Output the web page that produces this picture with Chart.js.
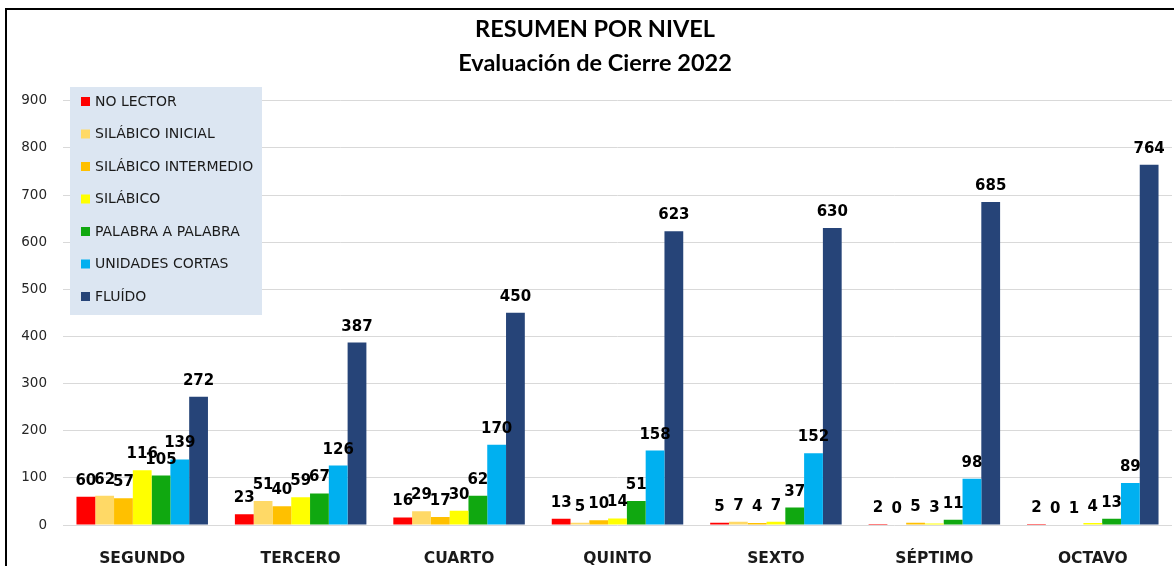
<!DOCTYPE html>
<html>
<head>
<meta charset="utf-8">
<script src="https://cdn.jsdelivr.net/npm/chart.js@4.4.1/dist/chart.umd.min.js"></script>
<style>
	html, body { margin: 0; padding: 0; background: #fff; }
	canvas { display: block; }
</style>
</head>
<body>
<canvas id="chart" width="1174" height="566"></canvas>
<script>
// niveles (categorias)
var niveles = ['SEGUNDO', 'TERCERO', 'CUARTO', 'QUINTO', 'SEXTO', 'SÉPTIMO', 'OCTAVO'];

// valores por categoria de lectura
var noLector = [60, 23, 16, 13, 5, 2, 2];
var silabicoInicial = [62, 51, 29, 5, 7, 0, 0];
var silabicoIntermedio = [57, 40, 17, 10, 4, 5, 1];
var silabico = [116, 59, 30, 14, 7, 3, 4];
var palabraAPalabra = [105, 67, 62, 51, 37, 11, 13];
var unidadesCortas = [139, 126, 170, 158, 152, 98, 89];
var fluido = [272, 387, 450, 623, 630, 685, 764];

var yTicks = [0, 100, 200, 300, 400, 500, 600, 700, 800, 900];

var series = [
	{ label: 'NO LECTOR', data: noLector, color: '#ff0000' },
	{ label: 'SILÁBICO INICIAL', data: silabicoInicial, color: '#ffd966' },
	{ label: 'SILÁBICO INTERMEDIO', data: silabicoIntermedio, color: '#ffc000' },
	{ label: 'SILÁBICO', data: silabico, color: '#ffff00' },
	{ label: 'PALABRA A PALABRA', data: palabraAPalabra, color: '#10a810' },
	{ label: 'UNIDADES CORTAS', data: unidadesCortas, color: '#00b0f0' },
	{ label: 'FLUÍDO', data: fluido, color: '#264478' }
];

Chart.defaults.font.family = "'DejaVu Sans', sans-serif";

// marco negro del grafico
var framePlugin = {
	id: 'frame',
	beforeDraw: function (chart) {
		var c = chart.ctx;
		c.save();
		c.fillStyle = '#fff';
		c.fillRect(0, 0, chart.width, chart.height);
		c.strokeStyle = '#000';
		c.lineWidth = 2;
		c.beginPath();
		c.moveTo(6, chart.height);
		c.lineTo(6, 9);
		c.lineTo(chart.width, 9);
		c.stroke();
		c.restore();
	}
};

// etiquetas de valores sobre cada barra
var valueLabels = {
	id: 'valueLabels',
	afterDatasetsDraw: function (chart) {
		var c = chart.ctx;
		c.save();
		c.font = "bold 15px 'DejaVu Sans'";
		c.fillStyle = '#000';
		c.textAlign = 'center';
		c.textBaseline = 'alphabetic';
		chart.data.datasets.forEach(function (ds, i) {
			var meta = chart.getDatasetMeta(i);
			meta.data.forEach(function (bar, j) {
				c.fillText(String(ds.data[j]), bar.x, bar.y - 12);
			});
		});
		c.restore();
	}
};

// leyenda dentro del area del grafico
var boxLegend = {
	id: 'boxLegend',
	afterDraw: function (chart) {
		var c = chart.ctx;
		c.save();
		c.fillStyle = '#dce6f2';
		c.fillRect(70, 87, 192, 228);
		c.font = "14px 'DejaVu Sans'";
		c.textBaseline = 'middle';
		c.textAlign = 'left';
		chart.data.datasets.forEach(function (ds, i) {
			var y = 101 + i * 32.5;
			c.fillStyle = ds.backgroundColor;
			c.fillRect(81, y - 4, 9, 9);
			c.fillStyle = '#1a1a1a';
			c.fillText(ds.label, 95, y + 1);
		});
		c.restore();
	}
};

var ctx = document.getElementById('chart').getContext('2d');
var chart = new Chart(ctx, {
	type: 'bar',
	data: {
		labels: niveles,
		datasets: series.map(function (s) {
			return {
				label: s.label,
				data: s.data,
				backgroundColor: s.color,
				borderWidth: 0,
				categoryPercentage: 0.83,
				barPercentage: 1
			};
		})
	},
	options: {
		responsive: false,
		animation: false,
		layout: { padding: { left: 18, right: 2, top: 0, bottom: 0 } },
		plugins: {
			legend: { display: false },
			tooltip: { enabled: false },
			title: {
				display: true,
				text: ['RESUMEN POR NIVEL', 'Evaluación de Cierre 2022'],
				color: '#000',
				font: { family: 'Lato', size: 23.5, weight: 'bold', lineHeight: 1.42 },
				padding: { top: 13, bottom: 21 }
			}
		},
		scales: {
			x: {
				grid: { display: false },
				border: { display: false },
				ticks: {
					color: '#1a1a1a',
					font: { size: 15.5, weight: 'bold' },
					padding: 17
				},
				afterFit: function (scale) { scale.height = 41; }
			},
			y: {
				min: 0,
				max: 900,
				afterBuildTicks: function (scale) {
					scale.ticks = yTicks.map(function (v) { return { value: v }; });
				},
				grid: { color: '#d9d9d9', lineWidth: 1, drawTicks: false },
				border: { display: false },
				ticks: {
					color: '#262626',
					font: { size: 13.5 },
					padding: 16
				},
				afterFit: function (scale) { scale.width = 45; }
			}
		}
	},
	plugins: [framePlugin, valueLabels, boxLegend]
});
</script>
</body>
</html>
